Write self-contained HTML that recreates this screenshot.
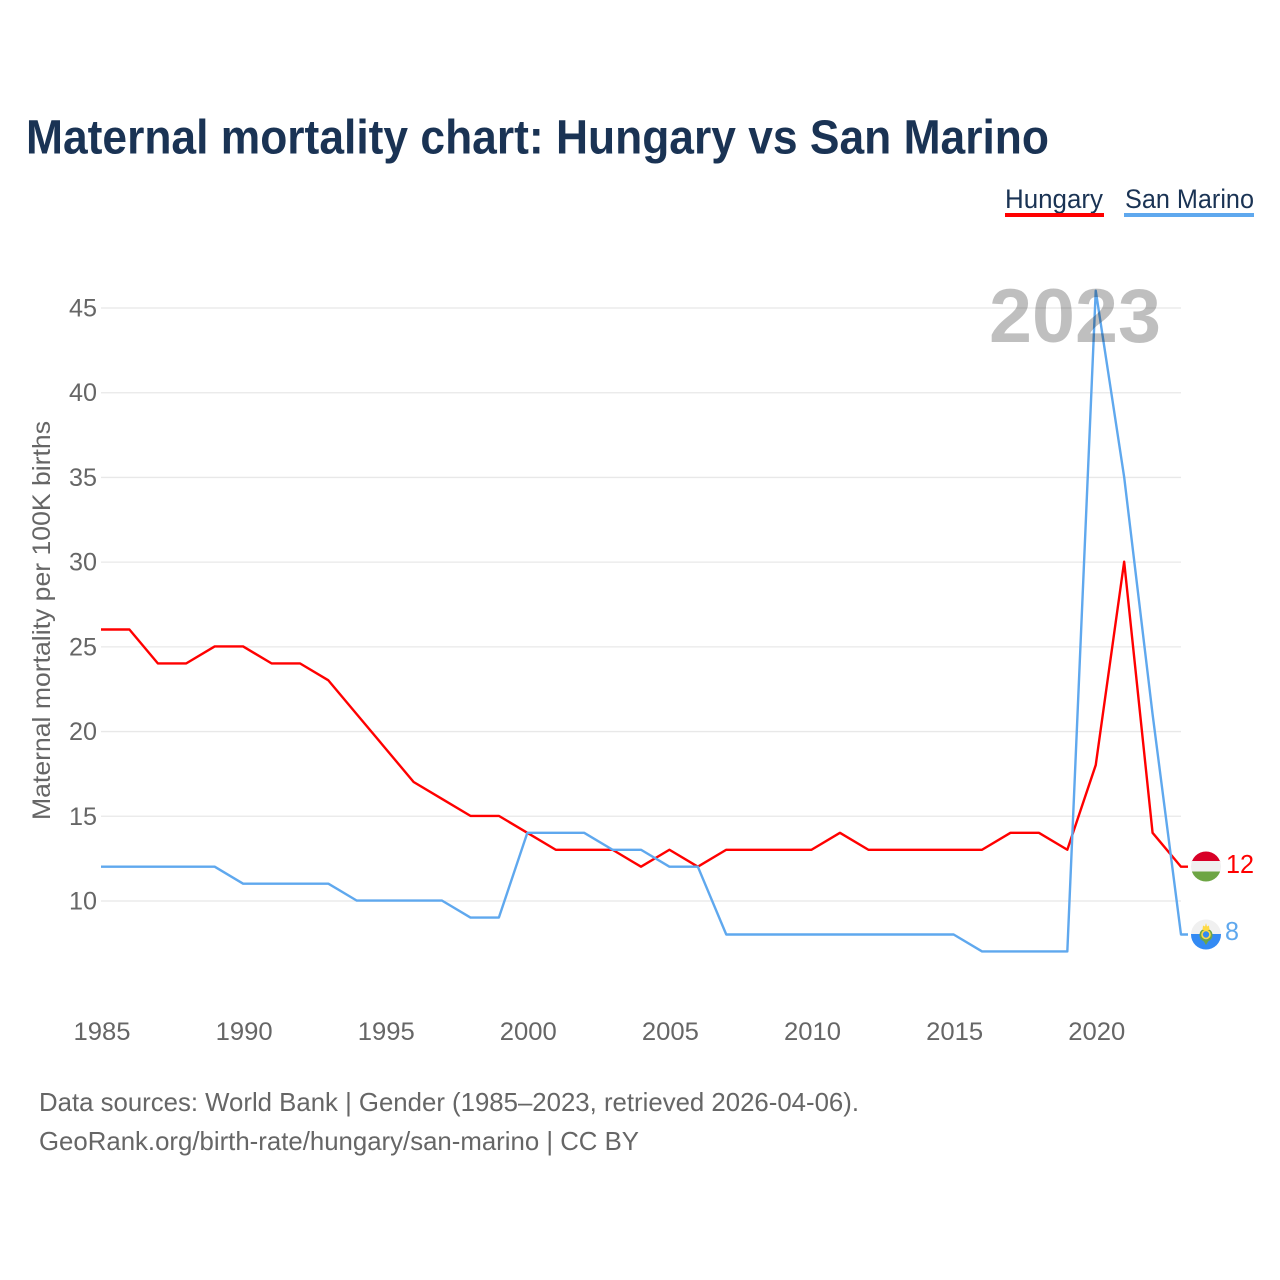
<!DOCTYPE html>
<html>
<head>
<meta charset="utf-8">
<title>Maternal mortality chart: Hungary vs San Marino</title>
<style>
html,body{margin:0;padding:0;background:#fff;}
svg{display:block;font-family:"Liberation Sans",sans-serif;}
</style>
</head>
<body>
<svg id="chart" xmlns="http://www.w3.org/2000/svg" width="1280" height="1280" viewBox="0 0 1280 1280">
  <rect x="0" y="0" width="1280" height="1280" fill="#ffffff"/>
  <text x="26" y="153.5" font-size="48" font-weight="700" fill="#1a3354" textLength="1023" lengthAdjust="spacingAndGlyphs">Maternal mortality chart: Hungary vs San Marino</text>

  <g>
    <g>
      <text x="1005" y="208" font-size="27" fill="#1a3354" textLength="98" lengthAdjust="spacingAndGlyphs">Hungary</text>
      <rect x="1005" y="213" width="99" height="4" fill="#ff0000"/>
    </g>
    <g>
      <text x="1125" y="208" font-size="27" fill="#1a3354" textLength="129" lengthAdjust="spacingAndGlyphs">San Marino</text>
      <rect x="1124" y="213" width="130" height="4" fill="#5fa8ee"/>
    </g>
  </g>

  <g id="grid"></g>
  <g id="yticks"></g>
  <g id="xticks"></g>

  <text transform="translate(50,620.5) rotate(-90)" text-anchor="middle" font-size="25" fill="#666666" textLength="399" lengthAdjust="spacingAndGlyphs">Maternal mortality per 100K births</text>

  <g id="series"></g>

  <text x="989" y="342" font-size="76" font-weight="700" fill="#000000" fill-opacity="0.25" textLength="172" lengthAdjust="spacingAndGlyphs">2023</text>

  <g>
    <clipPath id="clipHu"><circle cx="1206" cy="866.5" r="15"/></clipPath>
    <g clip-path="url(#clipHu)">
      <rect x="1190" y="851" width="32" height="11" fill="#d80027"/>
      <rect x="1190" y="861" width="32" height="11" fill="#f0f0f0"/>
      <rect x="1190" y="871.5" width="32" height="11" fill="#6da544"/>
    </g>
  </g>
  <g>
    <clipPath id="clipSm"><circle cx="1206" cy="934.5" r="15"/></clipPath>
    <g clip-path="url(#clipSm)">
      <rect x="1190" y="919" width="32" height="15.5" fill="#f0f0f0"/>
      <rect x="1190" y="934" width="32" height="17" fill="#338af3"/>
    </g>
    <path d="M1203 940 L1206 945 L1209 940 Z" fill="#6da544"/>
    <circle cx="1206" cy="935" r="5.5" fill="none" stroke="#6da544" stroke-width="2"/>
    <circle cx="1206" cy="934.5" r="4" fill="#338af3" stroke="#ffda44" stroke-width="1.6"/>
    <path d="M1202.5 930 L1203 925.5 L1205 926.5 L1206 923 L1207 926.5 L1209 925.5 L1209.5 930 Z" fill="#ffda44"/>
  </g>

  <text x="1226" y="873" font-size="26" fill="#ff0000" textLength="28" lengthAdjust="spacingAndGlyphs">12</text>
  <text x="1225" y="940" font-size="26" fill="#5fa8ee" textLength="14" lengthAdjust="spacingAndGlyphs">8</text>

  <text x="39" y="1111" font-size="26" fill="#666666" textLength="820" lengthAdjust="spacingAndGlyphs">Data sources: World Bank | Gender (1985–2023, retrieved 2026-04-06).</text>
  <text x="39" y="1150" font-size="26" fill="#666666" textLength="600" lengthAdjust="spacingAndGlyphs">GeoRank.org/birth-rate/hungary/san-marino | CC BY</text>
</svg>
<script>
const years = [1985,1986,1987,1988,1989,1990,1991,1992,1993,1994,1995,1996,1997,1998,1999,2000,2001,2002,2003,2004,2005,2006,2007,2008,2009,2010,2011,2012,2013,2014,2015,2016,2017,2018,2019,2020,2021,2022,2023];
const hungaryValues = [26,26,24,24,25,25,24,24,23,21,19,17,16,15,15,14,13,13,13,12,13,12,13,13,13,13,14,13,13,13,13,13,14,14,13,18,30,14,12];
const sanMarinoValues = [12,12,12,12,12,11,11,11,11,10,10,10,10,9,9,14,14,14,13,13,12,12,8,8,8,8,8,8,8,8,8,7,7,7,7,46,35,21,8];
const yTickValues = [10,15,20,25,30,35,40,45];
const xTickValues = [1985,1990,1995,2000,2005,2010,2015,2020];

const NS = 'http://www.w3.org/2000/svg';
const xScale = function (year) { return 101 + (year - 1985) * (1080 / 38); };
const yScale = function (value) { return 901 - (value - 10) * (593 / 35); };

function make(tag, attrs, parent) {
  const el = document.createElementNS(NS, tag);
  Object.keys(attrs).forEach(function (k) { el.setAttribute(k, attrs[k]); });
  parent.appendChild(el);
  return el;
}

const gridGroup = document.getElementById('grid');
const yGroup = document.getElementById('yticks');
const xGroup = document.getElementById('xticks');
const seriesGroup = document.getElementById('series');

yTickValues.forEach(function (v) {
  const line = make('line', { x1: 101, x2: 1181, y1: yScale(v), y2: yScale(v), stroke: '#e8e8e8', 'stroke-width': 1.3 }, gridGroup);
  
  
  const label = make('text', { x: 97, y: yScale(v) + 8.5, 'text-anchor': 'end', 'font-size': 25, fill: '#666666', textLength: 28, lengthAdjust: 'spacingAndGlyphs' }, yGroup);
  label.textContent = String(v);
  
  
});

xTickValues.forEach(function (v) {
  const label = make('text', { x: xScale(v) + 1, y: 1040, 'text-anchor': 'middle', 'font-size': 25, fill: '#666666', textLength: 57, lengthAdjust: 'spacingAndGlyphs' }, xGroup);
  label.textContent = String(v);
  
  
});

function drawSeries(values, color, name) {
  const pts = values.map(function (v, i) { return xScale(years[i]).toFixed(2) + ',' + (yScale(v) - 0.4).toFixed(2); });
  const last = values[values.length - 1];
  pts.push((xScale(years[years.length - 1]) + 7).toFixed(2) + ',' + (yScale(last) - 0.4).toFixed(2));
  const line = make('polyline', { points: pts.join(' '), fill: 'none', stroke: color, 'stroke-width': 2.4, 'stroke-linejoin': 'round' }, seriesGroup);
  
  
}

drawSeries(hungaryValues, '#ff0000', 'line-hungary');
drawSeries(sanMarinoValues, '#5fa8ee', 'line-san-marino');
</script>
</body>
</html>
